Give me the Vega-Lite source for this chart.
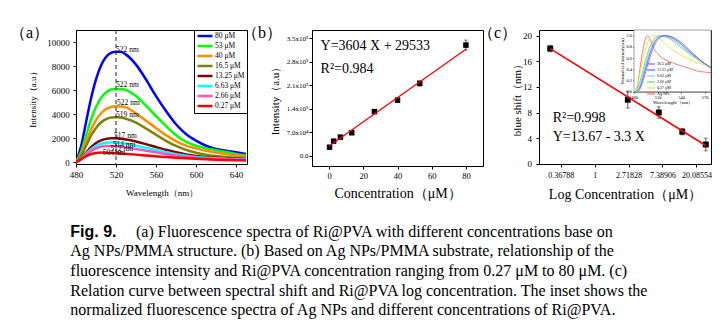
{
"$schema":"https://vega.github.io/schema/vega-lite/v6.json",
"padding":{"left":9,"top":24,"right":5,"bottom":5},
"background":"white",
"config":{
 "font":"Liberation Serif",
 "view":{"stroke":"black","strokeWidth":1},
 "axis":{"grid":false,"domainColor":"black","domainWidth":1,"tickColor":"black","tickSize":3,"labelColor":"black","titleColor":"black","labelFont":"Liberation Serif","titleFont":"Liberation Serif","titleFontWeight":"normal","labelPadding":2,"labelOverlap":false,"labelBound":false,"labelFlush":false},
 "legend":{"labelFont":"Liberation Serif","titleFont":"Liberation Serif","labelColor":"black"},
 "title":{"font":"Liberation Serif","fontWeight":"normal","color":"black"},
 "text":{"font":"Liberation Serif","color":"black"}
},
"datasets":{
 "spectra":[
{"c":"80 μM","wl":480,"v":0},{"c":"80 μM","wl":485,"v":1300},{"c":"80 μM","wl":490,"v":3300},{"c":"80 μM","wl":495,"v":5300},{"c":"80 μM","wl":500,"v":6900},{"c":"80 μM","wl":505,"v":8050},{"c":"80 μM","wl":510,"v":8750},{"c":"80 μM","wl":515,"v":9100},{"c":"80 μM","wl":520,"v":9200},{"c":"80 μM","wl":525,"v":9180},{"c":"80 μM","wl":530,"v":8950},{"c":"80 μM","wl":540,"v":8120},{"c":"80 μM","wl":550,"v":6880},{"c":"80 μM","wl":560,"v":5500},{"c":"80 μM","wl":570,"v":4260},{"c":"80 μM","wl":580,"v":3160},{"c":"80 μM","wl":590,"v":2340},{"c":"80 μM","wl":600,"v":1790},{"c":"80 μM","wl":610,"v":1370},{"c":"80 μM","wl":620,"v":1100},{"c":"80 μM","wl":630,"v":960},{"c":"80 μM","wl":640,"v":830},{"c":"80 μM","wl":650,"v":690},
{"c":"53 μM","wl":480,"v":0},{"c":"53 μM","wl":485,"v":860},{"c":"53 μM","wl":490,"v":2200},{"c":"53 μM","wl":495,"v":3550},{"c":"53 μM","wl":500,"v":4600},{"c":"53 μM","wl":505,"v":5350},{"c":"53 μM","wl":510,"v":5800},{"c":"53 μM","wl":515,"v":6050},{"c":"53 μM","wl":520,"v":6100},{"c":"53 μM","wl":525,"v":6090},{"c":"53 μM","wl":530,"v":6000},{"c":"53 μM","wl":540,"v":5500},{"c":"53 μM","wl":550,"v":4700},{"c":"53 μM","wl":560,"v":3850},{"c":"53 μM","wl":570,"v":3000},{"c":"53 μM","wl":580,"v":2250},{"c":"53 μM","wl":590,"v":1700},{"c":"53 μM","wl":600,"v":1370},{"c":"53 μM","wl":610,"v":1150},{"c":"53 μM","wl":620,"v":1000},{"c":"53 μM","wl":630,"v":850},{"c":"53 μM","wl":640,"v":690},{"c":"53 μM","wl":650,"v":560},
{"c":"40 μM","wl":480,"v":0},{"c":"40 μM","wl":485,"v":650},{"c":"40 μM","wl":490,"v":1670},{"c":"40 μM","wl":495,"v":2700},{"c":"40 μM","wl":500,"v":3500},{"c":"40 μM","wl":505,"v":4070},{"c":"40 μM","wl":510,"v":4420},{"c":"40 μM","wl":515,"v":4600},{"c":"40 μM","wl":520,"v":4650},{"c":"40 μM","wl":525,"v":4640},{"c":"40 μM","wl":530,"v":4560},{"c":"40 μM","wl":540,"v":4050},{"c":"40 μM","wl":550,"v":3450},{"c":"40 μM","wl":560,"v":2850},{"c":"40 μM","wl":570,"v":2250},{"c":"40 μM","wl":580,"v":1750},{"c":"40 μM","wl":590,"v":1380},{"c":"40 μM","wl":600,"v":1150},{"c":"40 μM","wl":610,"v":950},{"c":"40 μM","wl":620,"v":800},{"c":"40 μM","wl":630,"v":680},{"c":"40 μM","wl":640,"v":580},{"c":"40 μM","wl":650,"v":500},
{"c":"16.5 μM","wl":480,"v":0},{"c":"16.5 μM","wl":485,"v":520},{"c":"16.5 μM","wl":490,"v":1350},{"c":"16.5 μM","wl":495,"v":2200},{"c":"16.5 μM","wl":500,"v":2850},{"c":"16.5 μM","wl":505,"v":3300},{"c":"16.5 μM","wl":510,"v":3580},{"c":"16.5 μM","wl":515,"v":3720},{"c":"16.5 μM","wl":520,"v":3750},{"c":"16.5 μM","wl":525,"v":3710},{"c":"16.5 μM","wl":530,"v":3620},{"c":"16.5 μM","wl":540,"v":3300},{"c":"16.5 μM","wl":550,"v":2800},{"c":"16.5 μM","wl":560,"v":2280},{"c":"16.5 μM","wl":570,"v":1780},{"c":"16.5 μM","wl":580,"v":1350},{"c":"16.5 μM","wl":590,"v":1020},{"c":"16.5 μM","wl":600,"v":790},{"c":"16.5 μM","wl":610,"v":630},{"c":"16.5 μM","wl":620,"v":520},{"c":"16.5 μM","wl":630,"v":440},{"c":"16.5 μM","wl":640,"v":380},{"c":"16.5 μM","wl":650,"v":340},
{"c":"13.25 μM","wl":480,"v":0},{"c":"13.25 μM","wl":485,"v":300},{"c":"13.25 μM","wl":490,"v":780},{"c":"13.25 μM","wl":495,"v":1250},{"c":"13.25 μM","wl":500,"v":1600},{"c":"13.25 μM","wl":505,"v":1820},{"c":"13.25 μM","wl":510,"v":1940},{"c":"13.25 μM","wl":515,"v":1995},{"c":"13.25 μM","wl":520,"v":1990},{"c":"13.25 μM","wl":525,"v":1950},{"c":"13.25 μM","wl":530,"v":1890},{"c":"13.25 μM","wl":540,"v":1720},{"c":"13.25 μM","wl":550,"v":1500},{"c":"13.25 μM","wl":560,"v":1260},{"c":"13.25 μM","wl":570,"v":1030},{"c":"13.25 μM","wl":580,"v":820},{"c":"13.25 μM","wl":590,"v":650},{"c":"13.25 μM","wl":600,"v":520},{"c":"13.25 μM","wl":610,"v":430},{"c":"13.25 μM","wl":620,"v":360},{"c":"13.25 μM","wl":630,"v":310},{"c":"13.25 μM","wl":640,"v":280},{"c":"13.25 μM","wl":650,"v":250},
{"c":"6.63 μM","wl":480,"v":0},{"c":"6.63 μM","wl":485,"v":280},{"c":"6.63 μM","wl":490,"v":700},{"c":"6.63 μM","wl":495,"v":1080},{"c":"6.63 μM","wl":500,"v":1370},{"c":"6.63 μM","wl":505,"v":1540},{"c":"6.63 μM","wl":510,"v":1625},{"c":"6.63 μM","wl":515,"v":1650},{"c":"6.63 μM","wl":520,"v":1630},{"c":"6.63 μM","wl":525,"v":1590},{"c":"6.63 μM","wl":530,"v":1530},{"c":"6.63 μM","wl":540,"v":1380},{"c":"6.63 μM","wl":550,"v":1200},{"c":"6.63 μM","wl":560,"v":1010},{"c":"6.63 μM","wl":570,"v":830},{"c":"6.63 μM","wl":580,"v":670},{"c":"6.63 μM","wl":590,"v":540},{"c":"6.63 μM","wl":600,"v":440},{"c":"6.63 μM","wl":610,"v":370},{"c":"6.63 μM","wl":620,"v":320},{"c":"6.63 μM","wl":630,"v":280},{"c":"6.63 μM","wl":640,"v":250},{"c":"6.63 μM","wl":650,"v":230},
{"c":"2.66 μM","wl":480,"v":0},{"c":"2.66 μM","wl":485,"v":250},{"c":"2.66 μM","wl":490,"v":620},{"c":"2.66 μM","wl":495,"v":940},{"c":"2.66 μM","wl":500,"v":1160},{"c":"2.66 μM","wl":505,"v":1290},{"c":"2.66 μM","wl":510,"v":1345},{"c":"2.66 μM","wl":515,"v":1345},{"c":"2.66 μM","wl":520,"v":1320},{"c":"2.66 μM","wl":525,"v":1280},{"c":"2.66 μM","wl":530,"v":1230},{"c":"2.66 μM","wl":540,"v":1100},{"c":"2.66 μM","wl":550,"v":960},{"c":"2.66 μM","wl":560,"v":820},{"c":"2.66 μM","wl":570,"v":680},{"c":"2.66 μM","wl":580,"v":560},{"c":"2.66 μM","wl":590,"v":460},{"c":"2.66 μM","wl":600,"v":380},{"c":"2.66 μM","wl":610,"v":320},{"c":"2.66 μM","wl":620,"v":280},{"c":"2.66 μM","wl":630,"v":250},{"c":"2.66 μM","wl":640,"v":220},{"c":"2.66 μM","wl":650,"v":200},
{"c":"0.27 μM","wl":480,"v":0},{"c":"0.27 μM","wl":485,"v":240},{"c":"0.27 μM","wl":490,"v":500},{"c":"0.27 μM","wl":495,"v":680},{"c":"0.27 μM","wl":500,"v":770},{"c":"0.27 μM","wl":505,"v":800},{"c":"0.27 μM","wl":510,"v":790},{"c":"0.27 μM","wl":515,"v":770},{"c":"0.27 μM","wl":520,"v":745},{"c":"0.27 μM","wl":525,"v":720},{"c":"0.27 μM","wl":530,"v":690},{"c":"0.27 μM","wl":540,"v":630},{"c":"0.27 μM","wl":550,"v":560},{"c":"0.27 μM","wl":560,"v":490},{"c":"0.27 μM","wl":570,"v":430},{"c":"0.27 μM","wl":580,"v":370},{"c":"0.27 μM","wl":590,"v":320},{"c":"0.27 μM","wl":600,"v":280},{"c":"0.27 μM","wl":610,"v":240},{"c":"0.27 μM","wl":620,"v":210},{"c":"0.27 μM","wl":630,"v":190},{"c":"0.27 μM","wl":640,"v":170},{"c":"0.27 μM","wl":650,"v":150}
 ],
 "peaks":[
{"t":"522 nm","wl":520,"v":9370},{"t":"522 nm","wl":520,"v":6420},{"t":"522 nm","wl":521,"v":4920},{"t":"519 nm","wl":520,"v":3900},{"t":"517 nm","wl":518,"v":2210},{"t":"514 nm","wl":516.7,"v":1440},{"t":"512 nm","wl":514.3,"v":1110},{"t":"504 nm","wl":506.7,"v":740}
 ],
 "bpts":[
{"x":0.27,"v":26000,"lo":22000,"hi":30000},{"x":2.66,"v":44000,"lo":40000,"hi":48000},{"x":6.63,"v":56000,"lo":52000,"hi":60000},{"x":13.25,"v":69000,"lo":65000,"hi":73000},{"x":26.5,"v":132000,"lo":126000,"hi":138000},{"x":40,"v":166000,"lo":159000,"hi":173000},{"x":53,"v":216000,"lo":208000,"hi":224000},{"x":80,"v":330000,"lo":315000,"hi":345000}
 ],
 "bfit":[{"x":0,"v":29533},{"x":80,"v":317853}],
 "cpts":[
{"x":0.27,"v":18,"lo":17.5,"hi":18.5},{"x":2.66,"v":10,"lo":8.7,"hi":11.3},{"x":6.63,"v":8,"lo":7.1,"hi":8.9},{"x":13.25,"v":5,"lo":4.5,"hi":5.5},{"x":26.5,"v":3,"lo":2,"hi":4}
 ],
 "cfit":[{"x":0.27,"v":17.99},{"x":26.5,"v":2.85}],
 "inset":[
{"s":"Ag NPs","wl":483,"v":0},{"s":"Ag NPs","wl":486,"v":0.25},{"s":"Ag NPs","wl":489,"v":0.55},{"s":"Ag NPs","wl":492,"v":0.8},{"s":"Ag NPs","wl":495,"v":0.96},{"s":"Ag NPs","wl":497,"v":1.0},{"s":"Ag NPs","wl":500,"v":0.95},{"s":"Ag NPs","wl":503,"v":0.85},{"s":"Ag NPs","wl":506,"v":0.75},{"s":"Ag NPs","wl":510,"v":0.68},{"s":"Ag NPs","wl":515,"v":0.61},{"s":"Ag NPs","wl":520,"v":0.57},{"s":"Ag NPs","wl":530,"v":0.51},{"s":"Ag NPs","wl":540,"v":0.46},{"s":"Ag NPs","wl":550,"v":0.42},{"s":"Ag NPs","wl":560,"v":0.37},{"s":"Ag NPs","wl":570,"v":0.35},{"s":"Ag NPs","wl":578,"v":0.34},
{"s":"0.27 μM","wl":481,"v":0},{"s":"0.27 μM","wl":484,"v":0.1},{"s":"0.27 μM","wl":488,"v":0.35},{"s":"0.27 μM","wl":492,"v":0.62},{"s":"0.27 μM","wl":496,"v":0.83},{"s":"0.27 μM","wl":500,"v":0.95},{"s":"0.27 μM","wl":504,"v":1.0},{"s":"0.27 μM","wl":508,"v":0.99},{"s":"0.27 μM","wl":512,"v":0.95},{"s":"0.27 μM","wl":520,"v":0.85},{"s":"0.27 μM","wl":530,"v":0.74},{"s":"0.27 μM","wl":540,"v":0.65},{"s":"0.27 μM","wl":550,"v":0.58},{"s":"0.27 μM","wl":560,"v":0.52},{"s":"0.27 μM","wl":570,"v":0.48},{"s":"0.27 μM","wl":578,"v":0.45},
{"s":"2.66 μM","wl":482,"v":0},{"s":"2.66 μM","wl":485,"v":0.08},{"s":"2.66 μM","wl":490,"v":0.3},{"s":"2.66 μM","wl":495,"v":0.58},{"s":"2.66 μM","wl":500,"v":0.8},{"s":"2.66 μM","wl":505,"v":0.93},{"s":"2.66 μM","wl":510,"v":0.99},{"s":"2.66 μM","wl":514,"v":1.0},{"s":"2.66 μM","wl":520,"v":0.98},{"s":"2.66 μM","wl":530,"v":0.9},{"s":"2.66 μM","wl":540,"v":0.79},{"s":"2.66 μM","wl":550,"v":0.68},{"s":"2.66 μM","wl":560,"v":0.58},{"s":"2.66 μM","wl":570,"v":0.49},{"s":"2.66 μM","wl":578,"v":0.43},
{"s":"6.63 μM","wl":483,"v":0},{"s":"6.63 μM","wl":487,"v":0.1},{"s":"6.63 μM","wl":490,"v":0.24},{"s":"6.63 μM","wl":495,"v":0.5},{"s":"6.63 μM","wl":500,"v":0.74},{"s":"6.63 μM","wl":505,"v":0.89},{"s":"6.63 μM","wl":510,"v":0.97},{"s":"6.63 μM","wl":516,"v":1.0},{"s":"6.63 μM","wl":522,"v":0.98},{"s":"6.63 μM","wl":530,"v":0.93},{"s":"6.63 μM","wl":540,"v":0.82},{"s":"6.63 μM","wl":550,"v":0.7},{"s":"6.63 μM","wl":560,"v":0.6},{"s":"6.63 μM","wl":570,"v":0.5},{"s":"6.63 μM","wl":578,"v":0.44},
{"s":"13.25 μM","wl":484,"v":0},{"s":"13.25 μM","wl":487,"v":0.06},{"s":"13.25 μM","wl":490,"v":0.18},{"s":"13.25 μM","wl":495,"v":0.43},{"s":"13.25 μM","wl":500,"v":0.67},{"s":"13.25 μM","wl":505,"v":0.85},{"s":"13.25 μM","wl":510,"v":0.95},{"s":"13.25 μM","wl":518,"v":1.0},{"s":"13.25 μM","wl":525,"v":0.98},{"s":"13.25 μM","wl":530,"v":0.95},{"s":"13.25 μM","wl":540,"v":0.85},{"s":"13.25 μM","wl":550,"v":0.72},{"s":"13.25 μM","wl":560,"v":0.61},{"s":"13.25 μM","wl":570,"v":0.5},{"s":"13.25 μM","wl":578,"v":0.43},
{"s":"26.5 μM","wl":485,"v":0},{"s":"26.5 μM","wl":488,"v":0.06},{"s":"26.5 μM","wl":490,"v":0.13},{"s":"26.5 μM","wl":495,"v":0.36},{"s":"26.5 μM","wl":500,"v":0.6},{"s":"26.5 μM","wl":505,"v":0.8},{"s":"26.5 μM","wl":510,"v":0.92},{"s":"26.5 μM","wl":515,"v":0.98},{"s":"26.5 μM","wl":521,"v":1.0},{"s":"26.5 μM","wl":528,"v":0.98},{"s":"26.5 μM","wl":535,"v":0.93},{"s":"26.5 μM","wl":540,"v":0.88},{"s":"26.5 μM","wl":550,"v":0.75},{"s":"26.5 μM","wl":560,"v":0.62},{"s":"26.5 μM","wl":570,"v":0.5},{"s":"26.5 μM","wl":578,"v":0.42}
 ],
 "caption":[
{"line":1,"label":"Fig. 9.","body":"(a) Fluorescence spectra of Ri@PVA with different concentrations base on"},
{"line":2,"label":"","body":"Ag NPs/PMMA structure.  (b) Based on Ag NPs/PMMA substrate, relationship of the"},
{"line":3,"label":"","body":"fluorescence intensity and Ri@PVA concentration ranging from 0.27 μM to 80 μM. (c)"},
{"line":4,"label":"","body":"Relation curve between spectral shift and Ri@PVA log concentration. The inset shows the"},
{"line":5,"label":"","body":"normalized fluorescence spectra of Ag NPs and different concentrations of Ri@PVA."}
 ]
},
"vconcat":[
 {"hconcat":[
  {"width":171,"height":134,
   "title":{"text":"（a）","anchor":"start","frame":"group","dx":-66,"dy":19,"baseline":"middle","offset":0,"fontSize":16},
   "layer":[
    {"data":{"name":"spectra"},
     "mark":{"type":"line","strokeWidth":2.5,"interpolate":"monotone","clip":true},
     "encoding":{
      "x":{"field":"wl","type":"quantitative","scale":{"domain":[480,651],"nice":false,"zero":false},
           "axis":{"values":[480,520,560,600,640],"tickCount":20,"labelOverlap":false,"title":"Wavelength（nm）","labelFontSize":9,"titleFontSize":9,"labelPadding":3,"titlePadding":9}},
      "y":{"field":"v","type":"quantitative","scale":{"domain":[-150,11000],"nice":false},
           "axis":{"values":[0,2000,4000,6000,8000,10000],"tickCount":20,"labelOverlap":false,"format":"d","title":"Intensity（a.u）","labelFontSize":9,"titleFontSize":9,"labelPadding":3.7,"titlePadding":9}},
      "color":{"field":"c","type":"nominal",
           "scale":{"domain":["80 μM","53 μM","40 μM","16.5 μM","13.25 μM","6.63 μM","2.66 μM","0.27 μM"],"range":["#0000ff","#00ff00","#ff8c00","#808000","#800000","#00ffff","#ff55bb","#ff0000"]},
           "legend":{"title":null,"orient":"top-right","offset":0,"symbolType":"M-1,0H5","symbolStrokeWidth":2.5,"symbolSize":25,"labelFontSize":7.5,"strokeColor":"black","fillColor":"white","padding":2,"rowPadding":0,"labelOffset":11}}
     }},
    {"data":{"values":[{}]},"mark":{"type":"rule","strokeDash":[4,3],"color":"#222","strokeWidth":1},"encoding":{"x":{"datum":520}}},
    {"data":{"name":"peaks"},"mark":{"type":"text","align":"left","baseline":"middle","fontSize":7.5},
     "encoding":{"x":{"field":"wl","type":"quantitative"},"y":{"field":"v","type":"quantitative"},"text":{"field":"t"}}}
   ]},
  {"width":171,"height":136,
   "title":{"text":"（b）","anchor":"start","frame":"group","dx":-70,"dy":19,"baseline":"middle","offset":0,"fontSize":16},
   "layer":[
    {"data":{"name":"bpts"},"mark":{"type":"errorbar","ticks":{"size":4},"color":"#555"},
     "encoding":{
      "x":{"field":"x","type":"quantitative","scale":{"domain":[-10,90],"nice":false,"zero":false},
           "axis":{"values":[0,20,40,60,80],"tickCount":20,"labelOverlap":false,"title":"Concentration（μM）","labelFontSize":8.5,"titleFontSize":14,"titlePadding":7}},
      "y":{"field":"lo","type":"quantitative","scale":{"domain":[-30000,375000],"nice":false,"zero":false},
           "axis":{"values":[0,70000,140000,210000,280000,350000],"tickCount":20,"labelOverlap":false,"labelExpr":"datum.value >= 100000 ? format(datum.value/100000,'.1f') + 'x10⁵' : (datum.value > 0 ? format(datum.value/10000,'.1f') + 'x10⁴' : '0.0')","title":"Intensity（a.u）","labelFontSize":7,"titleFontSize":11,"labelPadding":1,"titlePadding":5.5}},
      "y2":{"field":"hi"}}},
    {"data":{"name":"bpts"},"mark":{"type":"point","shape":"square","filled":true,"color":"black","size":30,"opacity":1},
     "encoding":{"x":{"field":"x","type":"quantitative"},"y":{"field":"v","type":"quantitative"}}},
    {"data":{"name":"bfit"},"mark":{"type":"line","color":"#ff0000","strokeWidth":1.3},
     "encoding":{"x":{"field":"x","type":"quantitative"},"y":{"field":"v","type":"quantitative"}}},
    {"data":{"values":[{}]},"mark":{"type":"text","align":"left","baseline":"middle","fontSize":14},
     "encoding":{"x":{"datum":-5},"y":{"datum":327000},"text":{"value":"Y=3604 X + 29533"}}},
    {"data":{"values":[{}]},"mark":{"type":"text","align":"left","baseline":"middle","fontSize":14},
     "encoding":{"x":{"datum":-5},"y":{"datum":258700},"text":{"value":"R²=0.984"}}}
   ]},
  {"width":172,"height":134,
   "title":{"text":"（c）","anchor":"start","frame":"group","dx":-61,"dy":19,"baseline":"middle","offset":0,"fontSize":16},
   "layer":[
    {"layer":[
     {"data":{"name":"cpts"},"mark":{"type":"errorbar","ticks":{"size":4},"color":"#555"},
      "encoding":{
       "x":{"field":"x","type":"quantitative","scale":{"type":"log","base":2.718281828,"domain":[0.194,30.9],"nice":false},
            "axis":{"orient":"bottom","values":[0.36788,1,2.71828,7.38906,20.08554],"tickCount":20,"labelOverlap":false,"format":".5~f","title":"Log Concentration（μM）","labelFontSize":8,"titleFontSize":14,"labelPadding":4,"titlePadding":8}},
       "y":{"field":"lo","type":"quantitative","scale":{"domain":[-0.05,20.9],"nice":false,"zero":false},
            "axis":{"orient":"left","values":[0,4,8,12,16,20],"tickCount":20,"labelOverlap":false,"title":"blue shift（nm）","labelFontSize":9,"titleFontSize":11,"labelPadding":4.6,"titlePadding":0}},
       "y2":{"field":"hi"}}},
     {"data":{"name":"cpts"},"mark":{"type":"point","shape":"square","filled":true,"color":"black","size":35,"opacity":1},
      "encoding":{"x":{"field":"x","type":"quantitative"},"y":{"field":"v","type":"quantitative"}}},
     {"data":{"name":"cfit"},"mark":{"type":"line","color":"#ff0000","strokeWidth":1.6},
      "encoding":{"x":{"field":"x","type":"quantitative"},"y":{"field":"v","type":"quantitative"}}},
     {"data":{"values":[{}]},"mark":{"type":"text","align":"left","baseline":"middle","fontSize":14},
      "encoding":{"x":{"datum":0.29},"y":{"datum":7.1},"text":{"value":"R²=0.998"}}},
     {"data":{"values":[{}]},"mark":{"type":"text","align":"left","baseline":"middle","fontSize":14},
      "encoding":{"x":{"datum":0.29},"y":{"datum":4.2},"text":{"value":"Y=13.67 - 3.3 X"}}}
    ]},
    {"layer":[
     {"data":{"values":[{}]},"mark":{"type":"rect","fill":"white","stroke":"#888","strokeWidth":0.8},
      "encoding":{
       "x":{"datum":480,"type":"quantitative","scale":{"domain":[480,578],"range":[95,172],"nice":false,"zero":false},
            "axis":{"orient":"bottom","offset":-72.3,"values":[480,510,540,570],"tickCount":20,"labelOverlap":false,"title":"Wavelength（nm）","labelFontSize":4.5,"titleFontSize":5,"tickSize":1.5,"labelPadding":1,"titlePadding":1,"domainWidth":0.6,"tickWidth":0.6}},
       "x2":{"datum":578},
       "y":{"datum":0,"type":"quantitative","scale":{"domain":[0,1.1],"range":[61.7,0],"nice":false,"zero":false},
            "axis":{"orient":"left","offset":-95,"values":[0,0.2,0.4,0.6,0.8,1.0],"tickCount":20,"labelOverlap":false,"format":".1f","title":"Normalized intensity(a.u)","labelFontSize":4.5,"titleFontSize":4.5,"tickSize":1.5,"labelPadding":1,"titlePadding":1,"domainWidth":0.6,"tickWidth":0.6}},
       "y2":{"datum":1.1}}},
     {"data":{"name":"inset"},"mark":{"type":"line","strokeWidth":0.9,"interpolate":"monotone"},
      "encoding":{
       "x":{"field":"wl","type":"quantitative"},
       "y":{"field":"v","type":"quantitative"},
       "color":{"field":"s","type":"nominal",
         "scale":{"domain":["26.5 μM","13.25 μM","6.63 μM","2.66 μM","0.27 μM","Ag NPs"],"range":["#9a5cf5","#4f6df5","#7fd0f5","#5de05a","#f5d94a","#f5735a"]},
         "legend":{"orient":"none","legendX":107,"legendY":31,"title":null,"symbolType":"M-1,0H3","symbolStrokeWidth":1.2,"symbolSize":16,"labelFontSize":4,"rowPadding":0,"labelOffset":5,"padding":0}}}}
    ]}
   ],
   "resolve":{"scale":{"x":"independent","y":"independent","color":"independent"},"axis":{"x":"independent","y":"independent"}}}
 ],"spacing":-7,"resolve":{"scale":{"color":"independent"},"legend":{"color":"independent"}}},
 {"width":570,"height":107.8,"view":{"stroke":null},
  "data":{"name":"caption"},
  "encoding":{"y":{"field":"line","type":"ordinal","scale":{"type":"point","padding":0.75},"axis":null}},
  "layer":[
   {"transform":[{"filter":"datum.line == 1"}],"mark":{"type":"text","align":"left","baseline":"alphabetic","font":"Liberation Sans","fontWeight":"bold","fontSize":16,"dx":-5.7},
    "encoding":{"x":{"datum":0,"type":"quantitative","scale":{"domain":[0,1]},"axis":null},"text":{"field":"label"}}},
   {"transform":[{"filter":"datum.line == 1"}],"mark":{"type":"text","align":"left","baseline":"alphabetic","fontSize":16,"dx":60},
    "encoding":{"x":{"datum":0,"type":"quantitative","axis":null},"text":{"field":"body"}}},
   {"transform":[{"filter":"datum.line > 1"}],"mark":{"type":"text","align":"left","baseline":"alphabetic","fontSize":16,"dx":-5.7},
    "encoding":{"x":{"datum":0,"type":"quantitative","axis":null},"text":{"field":"body"}}}
  ]}
],
"spacing":20,
"resolve":{"scale":{"color":"independent"},"legend":{"color":"independent"}}
}
